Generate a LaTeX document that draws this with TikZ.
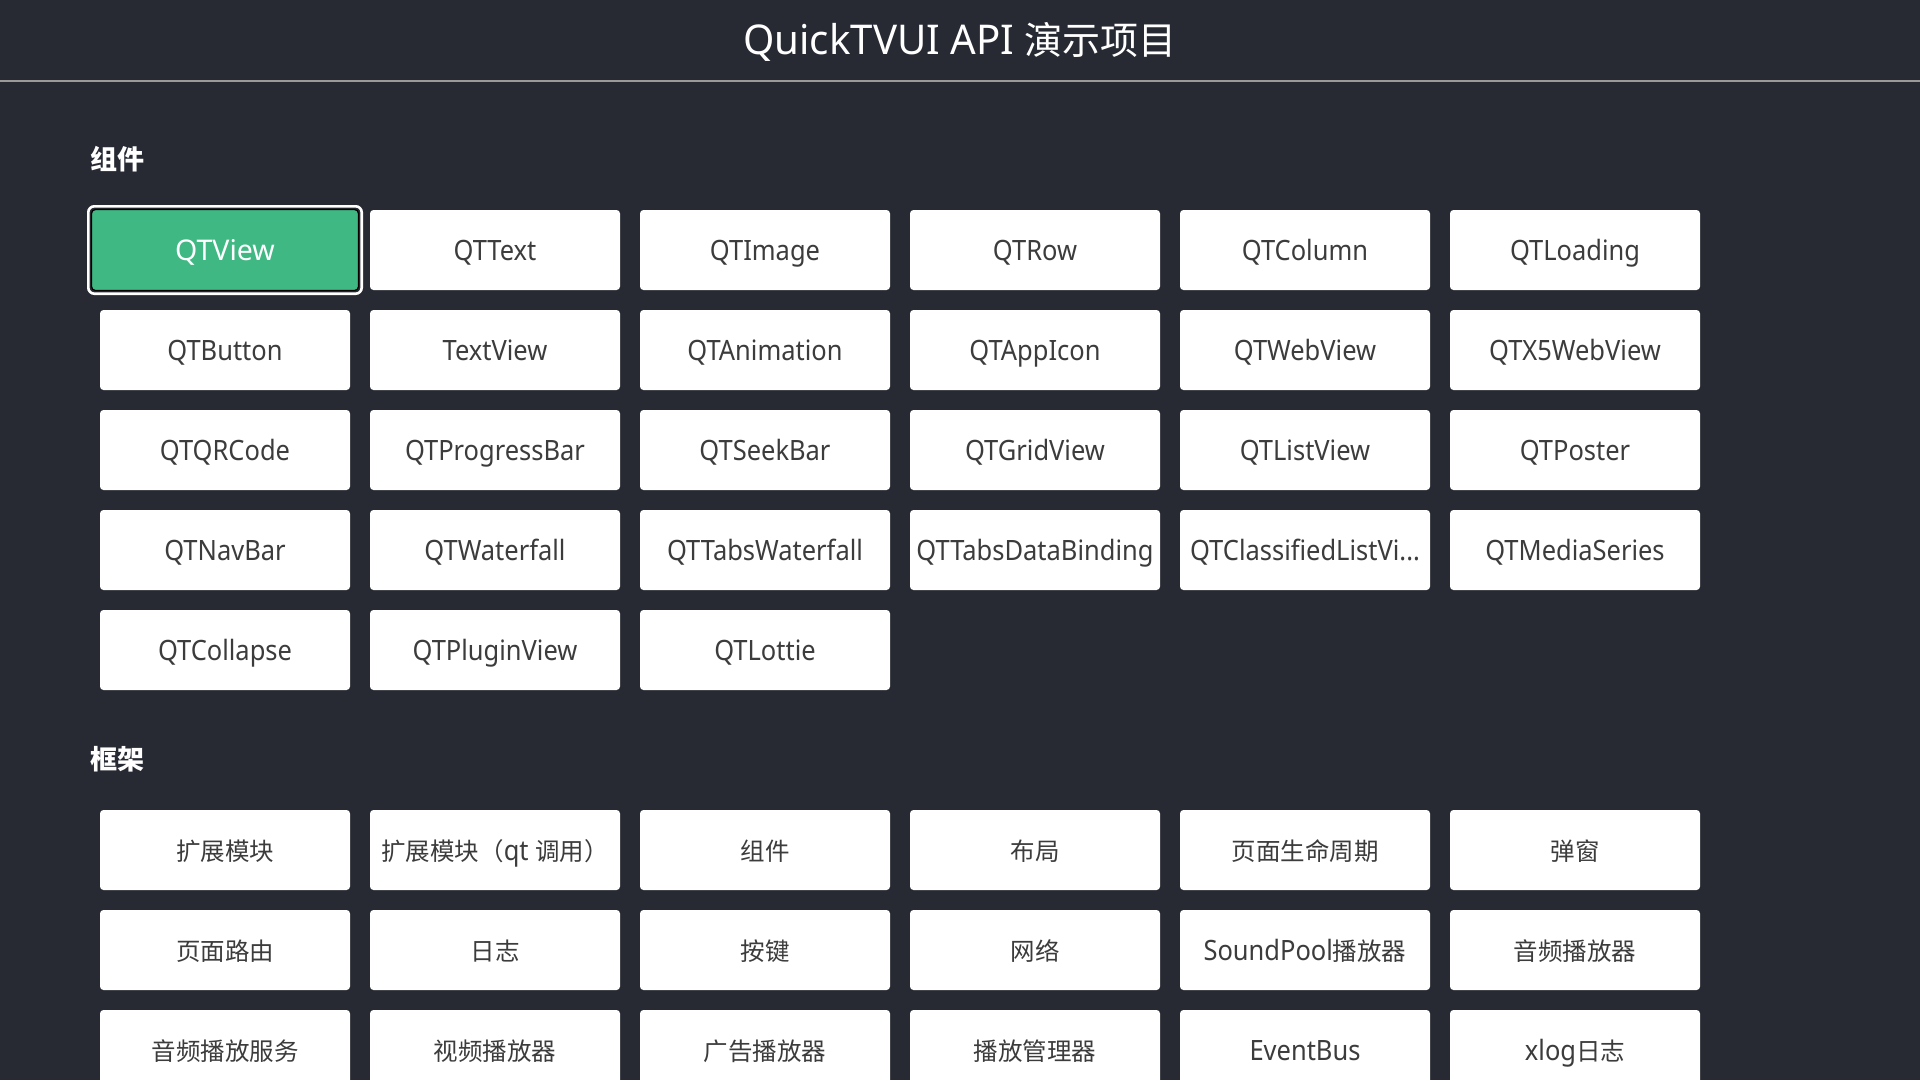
\documentclass[tikz,border=0pt]{standalone}
\usepackage{fontspec}
\setmainfont{Noto Sans}[FakeStretch=0.91]
\newfontfamily\titlefont{Noto Sans}[FakeStretch=0.98]
\newfontfamily\selfont{Noto Sans}
\newfontfamily\cjk{Noto Sans CJK SC}
\newcommand\zh[1]{{\cjk\fontsize{24.5}{28}\selectfont #1}}
\definecolor{bg}{HTML}{272A33}
\definecolor{selgreen}{HTML}{3FB883}
\definecolor{btntext}{HTML}{3C3C3C}
\definecolor{rulegray}{HTML}{9A9A9A}
\newcommand\qtclsname{QTClassifiedListVi...}
\begin{document}
\begin{tikzpicture}[x=1pt,y=-1pt,
  btn/.style={fill=white,rounded corners=3.5pt,minimum width=250pt,minimum height=80pt,inner sep=0pt,text=btntext,font=\fontsize{28}{32}\selectfont,text height=24.5pt,text depth=4.5pt},
  selbtn/.style={fill=selgreen,draw=black,line width=1.2pt,rounded corners=4pt,minimum width=267pt,minimum height=81pt,inner sep=0pt,text=white,font=\selfont\fontsize{28.5}{32}\selectfont,text height=25pt,text depth=4.65pt},
  sect/.style={text=white,font=\cjk\fontsize{27}{32}\selectfont\bfseries,anchor=west,inner sep=0pt,text height=23.76pt,text depth=3.24pt},
  titletext/.style={text=white,font=\titlefont\fontsize{41}{46}\selectfont,inner sep=0pt,text height=36pt,text depth=6.7pt}]
\useasboundingbox (0,0) rectangle (1920,1080);
\clip (0,0) rectangle (1920,1080);
\fill[bg] (0,0) rectangle (1920,1080);
\node[titletext] (title) at (960,40) {QuickTVUI API {\cjk\fontsize{38}{44}\selectfont 演示项目}};
\draw[rulegray,line width=2pt] (0,81) -- (1920,81);
\node[sect] (sec1) at (90.5,159.5) {组件};
\node[sect] (sec2) at (90.5,759.5) {框架};
% selected component
\node[selbtn] (c0) at (225,250) {QTView};
\draw[white,line width=2.6pt,rounded corners=6pt] ([shift={(-2.6pt,2.6pt)}]c0.north west) rectangle ([shift={(2.6pt,-2.6pt)}]c0.south east);
% components
\foreach \t [count=\i from 1] in {QTText,QTImage,QTRow,QTColumn,QTLoading,
  QTButton,TextView,QTAnimation,QTAppIcon,QTWebView,QTX5WebView,
  QTQRCode,QTProgressBar,QTSeekBar,QTGridView,QTListView,QTPoster,
  QTNavBar,QTWaterfall,QTTabsWaterfall,QTTabsDataBinding,\qtclsname,QTMediaSeries,
  QTCollapse,QTPluginView,QTLottie}{
  \pgfmathtruncatemacro{\c}{mod(\i,6)}
  \pgfmathtruncatemacro{\r}{int(\i/6)}
  \node[btn] (c\i) at ({225+270*\c},{250+100*\r}) {\t};
}
% framework
\foreach \t [count=\i from 0] in {\zh{扩展模块},\zh{扩展模块（}qt \zh{调用）},\zh{组件},\zh{布局},\zh{页面生命周期},\zh{弹窗},
  \zh{页面路由},\zh{日志},\zh{按键},\zh{网络},SoundPool\zh{播放器},\zh{音频播放器},
  \zh{音频播放服务},\zh{视频播放器},\zh{广告播放器},\zh{播放管理器},EventBus,xlog\zh{日志}}{
  \pgfmathtruncatemacro{\c}{mod(\i,6)}
  \pgfmathtruncatemacro{\r}{int(\i/6)}
  \node[btn] (f\i) at ({225+270*\c},{850+100*\r}) {\t};
}
\end{tikzpicture}
\end{document}
